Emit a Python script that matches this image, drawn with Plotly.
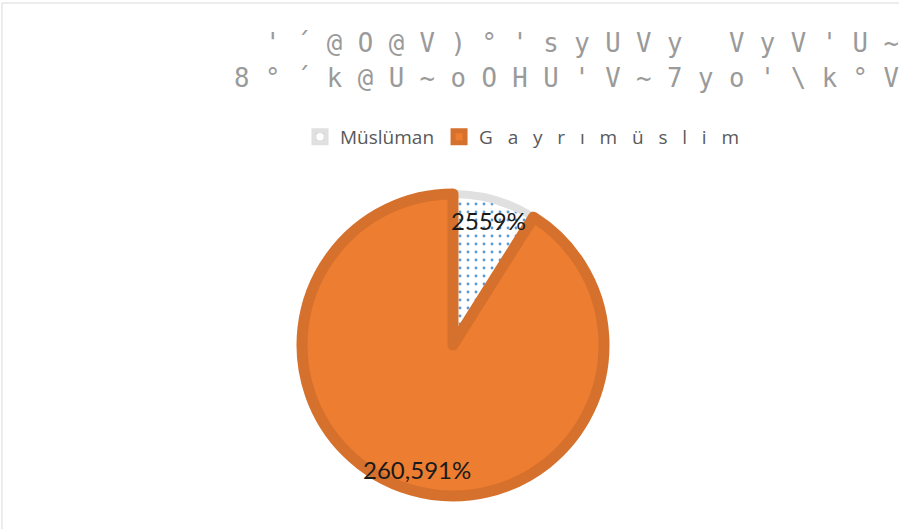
import math
import plotly.graph_objects as go

NB = "\u00a0"

# ---- data ----
categories = ["Müslüman", "Gayrımüslim"]
values = [25.59, 260.591]
value_labels = ["2559%", "260,591%"]
title_line1 = [" ", "'", "´", "@", "O", "@", "V", ")", "°", "'", "s", "y", "U", "V", "y", " ", "V", "y", "V", "'", "U", "~"]
title_line2 = ["8", "°", "´", "k", "@", "U", "~", "o", "O", "H", "U", "'", "V", "~", "7", "y", "o", "'", "\\", "k", "°", "V"]

W, H = 899, 529
legend_names = [categories[0], (NB * 3).join(list(categories[1]))]

# pie geometry (pixels)
cx, cy, R = 453, 345, 151
dom_x = [(cx - R) / W, (cx + R) / W]
dom_y = [1 - (cy + R) / H, 1 - (cy - R) / H]

fig = go.Figure(go.Pie(
    labels=legend_names,
    values=values,
    sort=False,
    direction="clockwise",
    rotation=0,
    textinfo="none",
    hoverinfo="label+value",
    domain=dict(x=dom_x, y=dom_y),
    marker=dict(
        colors=["#FFFFFF", "#ED7D31"],
        line=dict(color=["#E0E0E0", "#D5712C"], width=[8, 11]),
        pattern=dict(shape=[".", ""], fgcolor=["#5B9BD5", "#ED7D31"],
                     bgcolor=["#FFFFFF", "#ED7D31"], size=8, solidity=0.1),
    ),
))

# value labels placed on slice mid-angles
total = sum(values)
start = 0.0
annotations = []
for v, t in zip(values, value_labels):
    mid = (start + v / 2) / total * 2 * math.pi
    start += v
    r = 0.855 * R
    px = cx + r * math.sin(mid)
    py = cy - r * math.cos(mid)
    annotations.append(dict(x=px / W, y=1 - py / H, xref="paper", yref="paper",
                            text=t, showarrow=False, xanchor="center", yanchor="middle",
                            font=dict(family="Lato", size=24, color="#1a1a1a")))

for line, ypx in ((title_line1, 43), (title_line2, 78)):
    annotations.append(dict(x=232 / W, y=1 - ypx / H, xref="paper", yref="paper",
                            text=NB.join(c if c != " " else NB for c in line),
                            showarrow=False, xanchor="left", yanchor="middle",
                            font=dict(family="DejaVu Sans Mono", size=25.7, color="#9a9a9a")))

fig.update_layout(
    width=W, height=H,
    margin=dict(l=0, r=0, t=0, b=0),
    paper_bgcolor="white", plot_bgcolor="white",
    showlegend=True,
    legend=dict(orientation="h", x=300 / W, y=1 - 137 / H, xanchor="left", yanchor="middle",
                font=dict(family="Open Sans", size=19, color="#595959"),
                itemwidth=30, traceorder="normal"),
    annotations=annotations,
    shapes=[dict(type="rect", xref="paper", yref="paper", x0=2 / W, x1=1.2, y0=-0.2, y1=1 - 3 / H,
                 line=dict(color="#D9D9D9", width=1), fillcolor="rgba(0,0,0,0)")],
)

fig.write_html("out.html", config={"displayModeBar": False},
               post_script="document.body.style.margin='0';")
